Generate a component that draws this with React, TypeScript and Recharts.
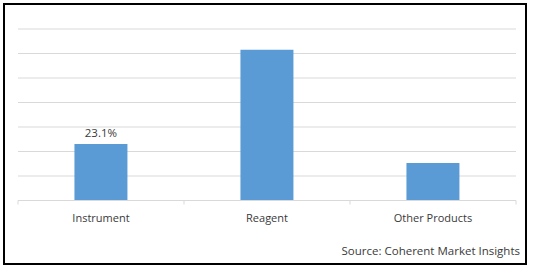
import { BarChart, Bar, XAxis, YAxis, CartesianGrid, LabelList } from "recharts";

const categories = ["Instrument", "Reagent", "Other Products"];
const shares = [23.1, 61.5, 15.3];
const shownLabels = ["23.1%", "", ""];
const yTicks = [0, 10, 20, 30, 40, 50, 60, 70];

const data = categories.map((name, i) => ({
  name,
  value: shares[i],
  label: shownLabels[i],
}));

const FONT = "'Open Sans', sans-serif";
const TEXT = "#3a3a3a";

// tick with the label in the middle and little marks on the band edges (Excel style)
function BandTick(props: any) {
  const { x, y, payload, index, visibleTicksCount } = props;
  const half = payload && payload.offset ? payload.offset : 83;
  const last = index === (visibleTicksCount ?? 3) - 1;
  return (
    <g>
      <line x1={x - half} x2={x - half} y1={y - 8} y2={y - 4} stroke="#d9d9d9" />
      {last && <line x1={x + half} x2={x + half} y1={y - 8} y2={y - 4} stroke="#d9d9d9" />}
      <text x={x} y={y} dy={13} textAnchor="middle" fill={TEXT} fontSize={11} fontFamily={FONT}>
        {payload.value}
      </text>
    </g>
  );
}

export default function App() {
  return (
    <div style={{ position: "absolute", left: 0, top: 0, width: 533, height: 270, background: "#fff" }}>
      <div
        style={{
          position: "absolute",
          left: 3,
          top: 3,
          width: 524,
          height: 262,
          border: "2px solid #000",
          boxSizing: "border-box",
        }}
      />
      <BarChart
        width={533}
        height={270}
        data={data}
        margin={{ top: 29, right: 17, bottom: 39.5, left: 18 }}
        barCategoryGap="34%"
        style={{ position: "absolute", left: 0, top: 0 }}
      >
        <CartesianGrid vertical={false} stroke="#d9d9d9" />
        <YAxis hide domain={[0, 70]} ticks={yTicks} />
        <XAxis
          dataKey="name"
          height={30}
          axisLine={{ stroke: "#d9d9d9" }}
          tickLine={false}
          tick={<BandTick />}
          interval={0}
        />
        <Bar dataKey="value" fill="#5b9bd5" isAnimationActive={false}>
          <LabelList dataKey="label" position="top" offset={7} fill={TEXT} fontSize={11.5} fontFamily={FONT} />
        </Bar>
      </BarChart>
      <div
        style={{
          position: "absolute",
          right: 13,
          top: 243,
          fontFamily: FONT,
          fontSize: 11.5,
          color: TEXT,
          whiteSpace: "nowrap",
        }}
      >
        Source: Coherent Market Insights
      </div>
    </div>
  );
}
